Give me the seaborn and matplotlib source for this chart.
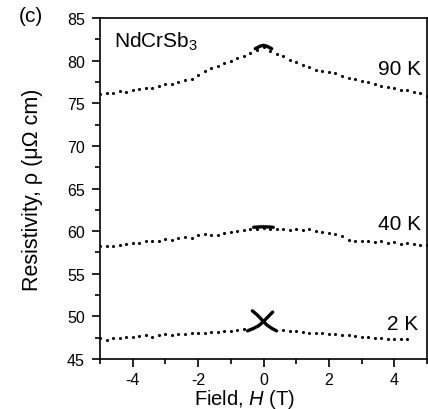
import numpy as np
import pandas as pd
import matplotlib
matplotlib.use("Agg")
import matplotlib.pyplot as plt
from matplotlib.ticker import MultipleLocator
import seaborn as sns

# Field sweep grid (T)
field = np.round(np.arange(-5.0, 5.0001, 0.2), 1)

# Resistivity (μΩ cm) at 90 K
rho_90K = [76.1, 76.2, 76.2, 76.4, 76.3, 76.5, 76.7, 76.8, 76.8, 77.0,
           77.2, 77.2, 77.5, 77.7, 77.8, 78.3, 78.8, 79.1, 79.4, 79.7,
           80.0, 80.3, 80.6, 80.9, 81.2, 81.6, 81.1, 80.8, 80.5, 80.1,
           79.8, 79.5, 79.2, 78.9, 78.8, 78.7, 78.6, 78.2, 78.0, 77.8,
           77.6, 77.5, 77.3, 77.0, 76.9, 76.8, 76.6, 76.5, 76.3, 76.2,
           75.9]

# Resistivity at 40 K
rho_40K = [58.2, 58.3, 58.2, 58.4, 58.5, 58.6, 58.6, 58.8, 58.9, 58.9,
           59.1, 59.0, 59.2, 59.3, 59.2, 59.6, 59.7, 59.6, 59.6, 59.8,
           59.9, 60.0, 60.1, 60.2, 60.3, 60.4, 60.3, 60.2, 60.2, 60.1,
           60.2, 60.1, 60.2, 60.0, 59.9, 59.8, 59.7, 59.4, 59.0, 58.9,
           58.8, 58.9, 58.7, 58.8, 58.6, 58.7, 58.5, 58.6, 58.5, 58.4,
           58.4]

# Resistivity at 2 K (sweep stops at 4.4 T; low-field loop listed apart)
field_2K = [-5.0, -4.8, -4.6, -4.4, -4.2, -4.0, -3.8, -3.6, -3.4, -3.2,
            -3.0, -2.8, -2.6, -2.4, -2.2, -2.0, -1.8, -1.6, -1.4, -1.2,
            -1.0, -0.8, -0.6, 0.6, 0.8, 1.0, 1.2, 1.4, 1.6, 1.8,
            2.0, 2.2, 2.4, 2.6, 2.8, 3.0, 3.2, 3.4, 3.6, 3.8,
            4.0, 4.2, 4.4]
rho_2K = [47.5, 47.2, 47.5, 47.5, 47.6, 47.6, 47.7, 47.8, 47.6, 47.8,
          47.9, 47.8, 47.9, 47.9, 48.0, 48.0, 48.1, 48.2, 48.2, 48.3,
          48.3, 48.4, 48.5, 48.4, 48.3, 48.3, 48.2, 48.1, 48.1, 48.0,
          47.9, 47.9, 47.8, 47.8, 47.7, 47.6, 47.6, 47.5, 47.5, 47.4,
          47.4, 47.4, 47.4]

# Densely sampled low-field branches
loop_2K_up_H = [-0.34, -0.2, -0.05, 0.1, 0.25, 0.4]
loop_2K_up_rho = [50.65, 50.2, 49.6, 49.0, 48.6, 48.3]
loop_2K_down_H = [0.28, 0.15, 0.0, -0.15, -0.3, -0.49]
loop_2K_down_rho = [50.5, 50.0, 49.4, 48.9, 48.6, 48.3]
peak_90K_H = [-0.25, -0.1, 0.0, 0.1, 0.25]
peak_90K_rho = [81.4, 81.7, 81.8, 81.7, 81.4]
peak_40K_H = [-0.3, -0.1, 0.1, 0.3]
peak_40K_rho = [60.45, 60.5, 60.5, 60.45]

temps = ["90 K", "40 K", "2 K"]

sns.set_theme(style="ticks")
plt.rcParams["font.family"] = ["Liberation Sans", "DejaVu Sans"]
plt.rcParams["mathtext.fontset"] = "custom"
plt.rcParams["mathtext.rm"] = "Liberation Sans"
plt.rcParams["mathtext.it"] = "Liberation Sans:italic"
plt.rcParams["text.color"] = "black"
plt.rcParams["axes.labelcolor"] = "black"
plt.rcParams["xtick.color"] = "black"
plt.rcParams["ytick.color"] = "black"

fig = plt.figure(figsize=(4.28, 4.10), dpi=100)
ax = fig.add_axes([100 / 428, 50 / 410, 327 / 428, 341 / 410])

sweeps = pd.concat([
    pd.DataFrame({"H": field, "rho": rho_90K, "T": temps[0]}),
    pd.DataFrame({"H": field, "rho": rho_40K, "T": temps[1]}),
    pd.DataFrame({"H": field_2K, "rho": rho_2K, "T": temps[2]}),
])
sns.scatterplot(data=sweeps, x="H", y="rho", color="black", s=5,
                linewidth=0, marker="o", legend=False, ax=ax)

for hx, ry in [(loop_2K_up_H, loop_2K_up_rho), (loop_2K_down_H, loop_2K_down_rho),
               (peak_90K_H, peak_90K_rho), (peak_40K_H, peak_40K_rho)]:
    sns.lineplot(x=hx, y=ry, sort=False, estimator=None, color="black",
                 linewidth=2.4, solid_capstyle="round", ax=ax)

ax.set_xlim(-5, 5)
ax.set_ylim(45, 85)
ax.xaxis.set_major_locator(MultipleLocator(2))
ax.xaxis.set_minor_locator(MultipleLocator(1))
ax.yaxis.set_major_locator(MultipleLocator(5))
ax.yaxis.set_minor_locator(MultipleLocator(2.5))
ax.set_xticks([-4, -2, 0, 2, 4])
ax.set_xticklabels(["-4", "-2", "0", "2", "4"])

for s in ax.spines.values():
    s.set_linewidth(1.2)
    s.set_color("black")
ax.tick_params(which="major", direction="out", length=6, width=1.2,
               labelsize=11.5, pad=5)
ax.tick_params(which="minor", direction="out", length=3.5, width=1.2)
ax.tick_params(axis="x", pad=3.5)

ax.set_xlabel("Field, $\\mathit{H}$ (T)", fontsize=14.5)
ax.set_ylabel("Resistivity, ρ (μΩ cm)", fontsize=15.5)
ax.xaxis.set_label_coords(144.5 / 327, -0.083)
ax.yaxis.set_label_coords(-0.175, 0.5)

ax.text(4.82, 78.43, temps[0], ha="right", va="baseline", fontsize=15)
ax.text(4.82, 60.26, temps[1], ha="right", va="baseline", fontsize=15)
ax.text(4.72, 48.54, temps[2], ha="right", va="baseline", fontsize=15)
ax.text(-4.57, 81.6, "NdCrSb$_3$", ha="left", va="baseline", fontsize=15)
fig.text(31 / 428, 1 - 16 / 410, "(c)", ha="center", va="center", fontsize=15)

fig.savefig("out.png", dpi=100)
